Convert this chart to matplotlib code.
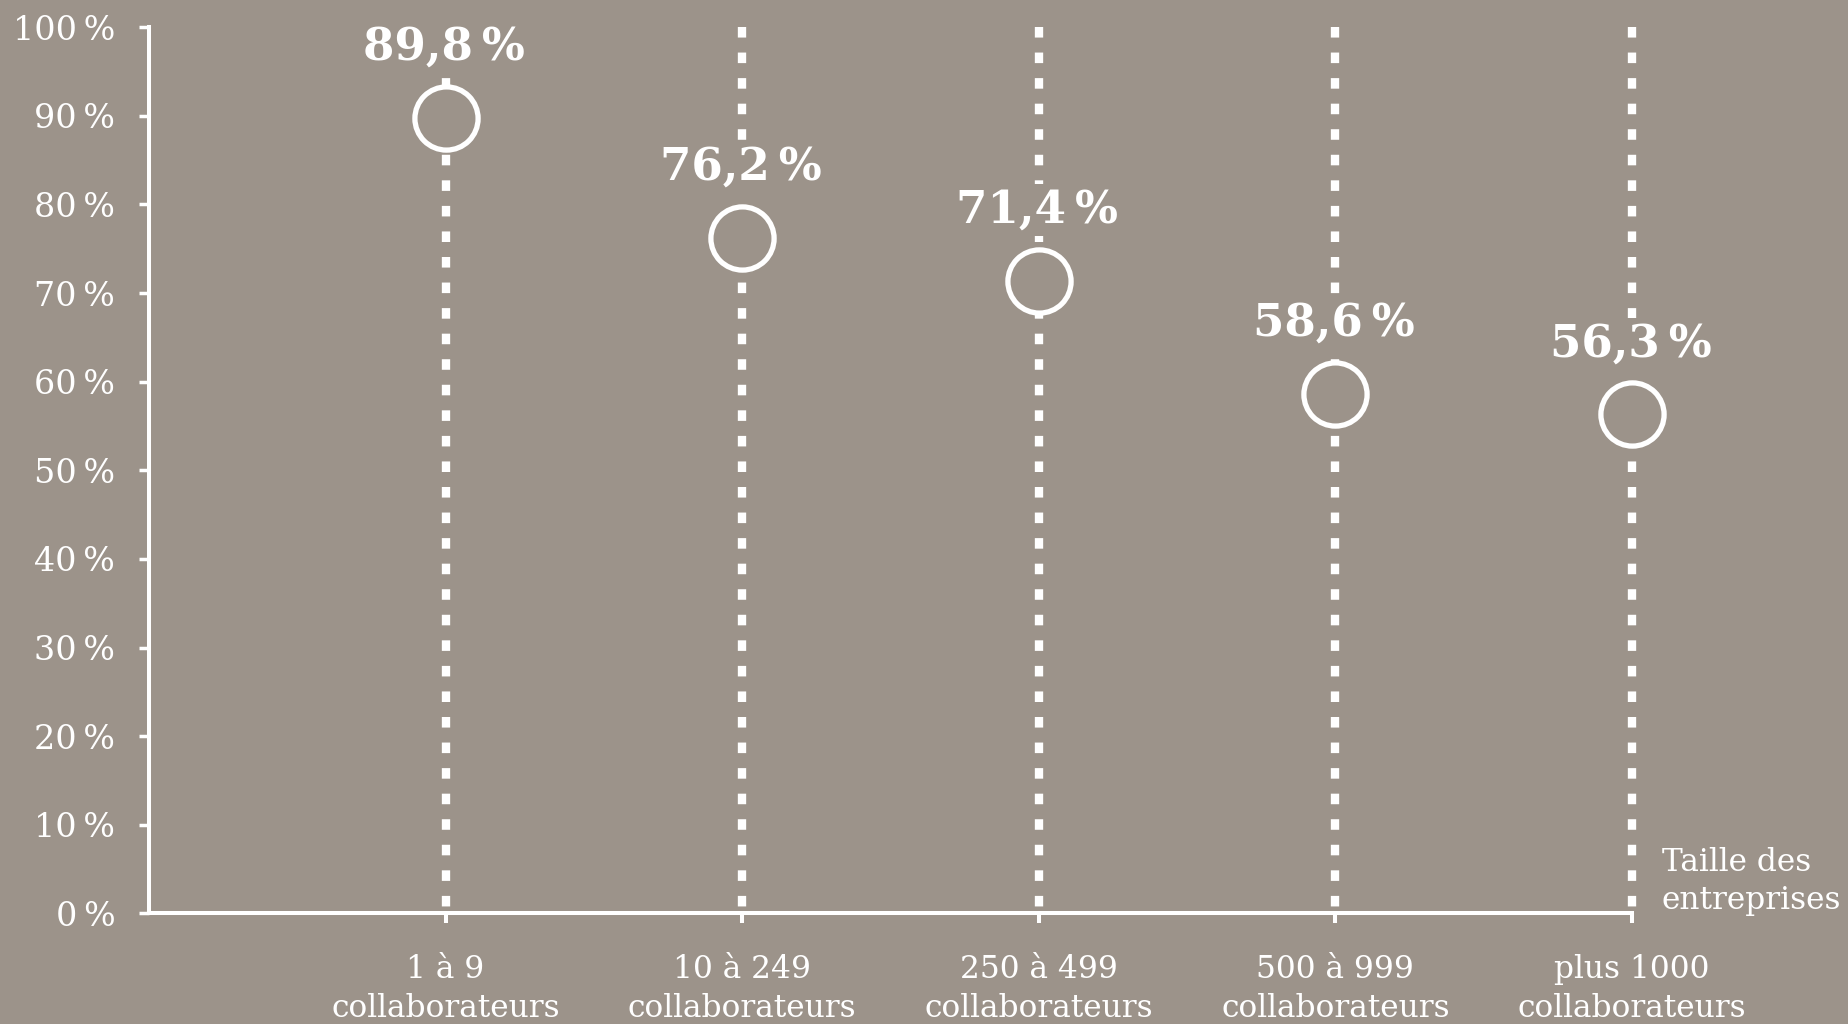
import matplotlib
matplotlib.use("Agg")
import matplotlib.pyplot as plt

categories = ["1 à 9\ncollaborateurs", "10 à 249\ncollaborateurs", "250 à 499\ncollaborateurs",
              "500 à 999\ncollaborateurs", "plus 1000\ncollaborateurs"]
values = [89.8, 76.2, 71.4, 58.6, 56.3]
yticks = [0, 10, 20, 30, 40, 50, 60, 70, 80, 90, 100]
axis_title = "Taille des\nentreprises"

bg = "#9c938a"
fg = "white"

plt.rcParams["font.family"] = ["DejaVu Serif"]
plt.rcParams["lines.scale_dashes"] = False

def main():
    fig = plt.figure(figsize=(18.48, 10.24), dpi=100, facecolor=bg)
    ax = fig.add_axes([0.0806, 0.108, 0.8025, 0.8655], facecolor=bg)

    xs = list(range(1, len(values) + 1))

    # dotted guides from 100% down to the axis
    for x in xs:
        ax.plot([x, x], [100, 0], color=fg, lw=6, dashes=(7.6, 10.8),
                solid_capstyle="butt", dash_capstyle="butt", zorder=1, clip_on=False)

    ax.plot(xs, values, ls="None", marker="o", ms=45.5, mew=3.8,
            mec=fg, mfc=bg, zorder=3, clip_on=False)

    for x, v in zip(xs, values):
        lab = ("%.1f" % v).replace(".", ",") + "\u2009%"
        ax.annotate(lab, (x, v), xytext=(-1, 51), textcoords="offset points",
                    ha="center", va="center", fontsize=32.5, fontweight="bold", color=fg,
                    bbox=dict(boxstyle="square,pad=0.1", fc=bg, ec="none"), zorder=4)

    ax.set_xlim(0, 5)
    ax.set_ylim(0, 100)
    ax.set_xticks(xs)
    ax.set_xticklabels(categories, fontsize=22.5, color=fg, linespacing=1.32)
    ax.set_yticks(yticks)
    ax.set_yticklabels(["%d\u2009%%" % t for t in yticks], fontsize=24, color=fg)

    for s in ["top", "right"]:
        ax.spines[s].set_visible(False)
    for s in ["left", "bottom"]:
        ax.spines[s].set_color(fg)
        ax.spines[s].set_linewidth(2.9)
        ax.spines[s].set_zorder(2)
    ax.tick_params(axis="x", length=7.2, width=2.9, color=fg, pad=22)
    ax.tick_params(axis="y", length=7.2, width=2.5, color=fg, pad=17)

    ax.text(5.1, 3.6, axis_title, ha="left", va="center", fontsize=22.5,
            color=fg, linespacing=1.3, clip_on=False)

    fig.savefig("out.png", dpi=100, facecolor=bg)
    plt.close()

if __name__ == "__main__":
    main()
